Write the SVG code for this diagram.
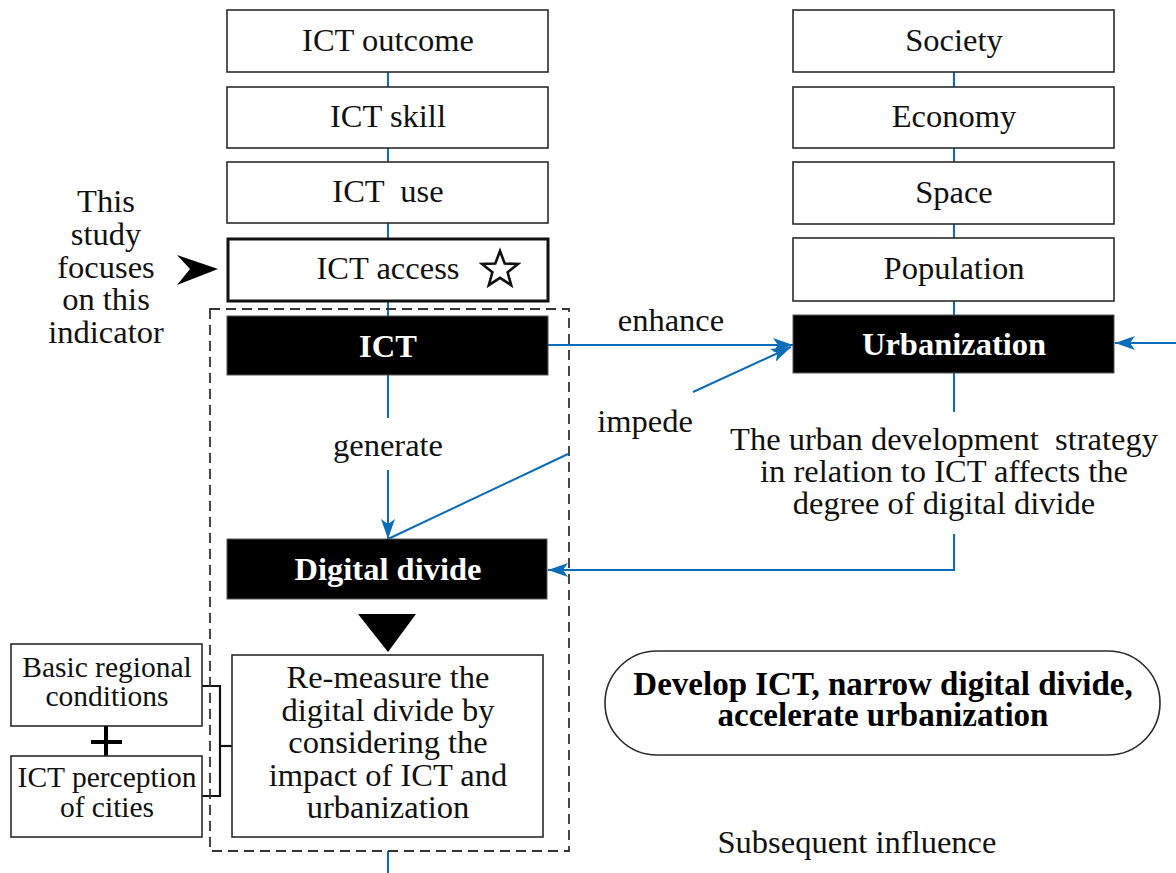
<svg xmlns="http://www.w3.org/2000/svg" width="1176" height="873" viewBox="0 0 1176 873" font-family="'Liberation Serif', Tinos, 'Times New Roman', 'DejaVu Serif', serif">
  <style>
    .box { fill: #fff; stroke: #2b2b2b; stroke-width: 1.6; }
    .dark { fill: #000; stroke: #555; stroke-width: 1; }
    .t { font-family: 'Liberation Serif', Tinos, 'Times New Roman', 'DejaVu Serif', serif; font-size: 32.5px; fill: #111; text-anchor: middle; }
    .tb { font-family: 'Liberation Serif', Tinos, 'Times New Roman', 'DejaVu Serif', serif; font-size: 32.5px; font-weight: bold; fill: #fff; text-anchor: middle; }
    .small { font-size: 29.5px; }
    .goal { font-size: 33px; font-weight: bold; fill: #000; }
    .bk { fill: #000; }
    .link { stroke: #0b6cb8; stroke-width: 2; fill: none; }
    .bracket { stroke: #111; stroke-width: 2.2; fill: none; }
  </style>
  <defs>
    <marker id="arr" viewBox="0 0 20 14" refX="20" refY="7" markerWidth="20" markerHeight="14" markerUnits="userSpaceOnUse" orient="auto">
      <path d="M0,0 L20,7 L0,14 L5,7 Z" fill="#0b6cb8"/>
    </marker>
  </defs>

  <rect width="1176" height="873" fill="#fff"/>

  <!-- connectors -->
  <g id="connectors">
    <!-- left indicator stack -->
    <line class="link" x1="388" y1="72" x2="388" y2="87"/>
    <line class="link" x1="388" y1="148" x2="388" y2="162"/>
    <line class="link" x1="388" y1="223" x2="388" y2="238"/>
    <line class="link" x1="388" y1="301" x2="388" y2="316"/>
    <!-- right dimension stack -->
    <line class="link" x1="954" y1="72" x2="954" y2="87"/>
    <line class="link" x1="954" y1="148" x2="954" y2="162"/>
    <line class="link" x1="954" y1="224" x2="954" y2="238"/>
    <line class="link" x1="954" y1="301" x2="954" y2="315"/>
    <!-- ICT -> Urbanization (enhance) -->
    <line class="link" x1="548" y1="345" x2="793" y2="345" marker-end="url(#arr)"/>
    <!-- Digital divide -> Urbanization (impede) -->
    <line class="link" x1="693" y1="392" x2="791" y2="347" marker-end="url(#arr)"/>
    <line class="link" x1="568" y1="454" x2="388" y2="539"/>
    <!-- ICT -> Digital divide (generate) -->
    <line class="link" x1="388" y1="375" x2="388" y2="418"/>
    <line class="link" x1="388" y1="470" x2="388" y2="539" marker-end="url(#arr)"/>
    <!-- Urbanization -> Digital divide -->
    <line class="link" x1="954" y1="373" x2="954" y2="412"/>
    <polyline class="link" points="954,534 954,570 548,570" marker-end="url(#arr)"/>
    <!-- incoming to Urbanization from the right -->
    <line class="link" x1="1176" y1="343" x2="1115" y2="343" marker-end="url(#arr)"/>
    <!-- outgoing below the dashed frame -->
    <line class="link" x1="388" y1="851" x2="388" y2="873"/>
    <!-- bracket joining the two conditions -->
    <polyline class="bracket" points="202,686 220,686 220,796 202,796"/>
    <line class="bracket" x1="220" y1="746" x2="232" y2="746"/>
  </g>

  <!-- dashed frame -->
  <rect id="frame" x="210" y="309" width="359" height="542" fill="none" stroke="#333" stroke-width="1.8" stroke-dasharray="10,6"/>

  <!-- left stack -->
  <g id="ict-outcome"><rect class="box" x="227" y="10" width="321" height="62"/><text class="t" x="388" y="51">ICT outcome</text></g>
  <g id="ict-skill"><rect class="box" x="227" y="87" width="321" height="61"/><text class="t" x="388" y="127">ICT skill</text></g>
  <g id="ict-use"><rect class="box" x="227" y="162" width="321" height="61"/><text class="t" x="388" y="202" xml:space="preserve">ICT  use</text></g>
  <g id="ict-access">
    <rect x="228" y="239" width="320" height="62" fill="#fff" stroke="#111" stroke-width="3"/>
    <text class="t" x="388" y="279">ICT access</text>
    <polygon points="500,251 504.7,263.5 518,264 507.6,272.3 511.2,285.2 500,277.8 488.8,285.2 492.4,272.3 482,264 495.3,263.5" fill="none" stroke="#111" stroke-width="2.6" stroke-linejoin="miter"/>
  </g>
  <g id="ict"><rect class="dark" x="227" y="316" width="321" height="59"/><text class="tb" x="388" y="357">ICT</text></g>
  <g id="digital-divide"><rect class="dark" x="227" y="539" width="320" height="60"/><text class="tb" x="388" y="580">Digital divide</text></g>
  <polygon id="down-triangle" class="bk" points="358,614 416,614 388,652"/>
  <g id="re-measure">
    <rect class="box" x="232" y="655" width="311" height="182"/>
    <text class="t" x="388" y="688">Re-measure the</text>
    <text class="t" x="388" y="721">digital divide by</text>
    <text class="t" x="388" y="753">considering the</text>
    <text class="t" x="388" y="786">impact of ICT and</text>
    <text class="t" x="388" y="818">urbanization</text>
  </g>

  <!-- right stack -->
  <g id="society"><rect class="box" x="793" y="10" width="321" height="62"/><text class="t" x="954" y="51">Society</text></g>
  <g id="economy"><rect class="box" x="793" y="87" width="321" height="61"/><text class="t" x="954" y="127">Economy</text></g>
  <g id="space"><rect class="box" x="793" y="162" width="321" height="62"/><text class="t" x="954" y="203">Space</text></g>
  <g id="population"><rect class="box" x="793" y="238" width="321" height="63"/><text class="t" x="954" y="279">Population</text></g>
  <g id="urbanization"><rect class="dark" x="793" y="315" width="321" height="58"/><text class="tb" x="954" y="355">Urbanization</text></g>

  <!-- side notes -->
  <g id="focus-note">
    <text class="t" x="106" y="212">This</text>
    <text class="t" x="106" y="245">study</text>
    <text class="t" x="106" y="278">focuses</text>
    <text class="t" x="106" y="310">on this</text>
    <text class="t" x="106" y="343">indicator</text>
    <polygon class="bk" points="177,255 218,269 177,285 190,269"/>
  </g>

  <g id="strategy-note">
    <text class="t" x="944" y="450" xml:space="preserve">The urban development  strategy</text>
    <text class="t" x="944" y="482">in relation to ICT affects the</text>
    <text class="t" x="944" y="514">degree of digital divide</text>
  </g>

  <g id="edge-labels">
    <text class="t" x="671" y="331">enhance</text>
    <text class="t" x="645" y="432">impede</text>
    <text class="t" x="388" y="456">generate</text>
  </g>

  <!-- conditions -->
  <g id="basic-conditions">
    <rect class="box" x="11" y="644" width="191" height="82"/>
    <text class="t small" x="107" y="677">Basic regional</text>
    <text class="t small" x="107" y="706">conditions</text>
  </g>
  <g id="plus">
    <line x1="91" y1="742" x2="122" y2="742" stroke="#000" stroke-width="4"/>
    <line x1="106" y1="726" x2="106" y2="756" stroke="#000" stroke-width="4"/>
  </g>
  <g id="ict-perception">
    <rect class="box" x="11" y="756" width="191" height="81"/>
    <text class="t small" x="107" y="787">ICT perception</text>
    <text class="t small" x="107" y="817">of cities</text>
  </g>

  <g id="goal">
    <rect class="box" x="605" y="651" width="555" height="104" rx="52" ry="52"/>
    <text class="t goal" x="883" y="695">Develop ICT, narrow digital divide,</text>
    <text class="t goal" x="883" y="726">accelerate urbanization</text>
  </g>

  <text id="subsequent" class="t" x="857" y="853">Subsequent influence</text>
</svg>
